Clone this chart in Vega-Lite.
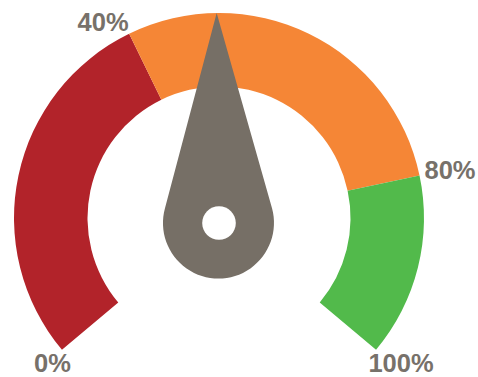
{
  "$schema": "https://vega.github.io/schema/vega-lite/v6.json",
  "width": 438,
  "height": 318,
  "autosize": {"type": "none"},
  "padding": {"left": 0, "top": 59, "right": 40, "bottom": 0},
  "background": "white",
  "config": {"view": {"stroke": null}},
  "datasets": {
    "bands": [
      {"band": "0-40", "start": 0, "end": 40},
      {"band": "40-80", "start": 40, "end": 80},
      {"band": "80-100", "start": 80, "end": 100}
    ],
    "ticks": [
      {"value": 0, "label": "0%"},
      {"value": 40, "label": "40%"},
      {"value": 80, "label": "80%"},
      {"value": 100, "label": "100%"}
    ],
    "needle": [{"value": 50}]
  },
  "layer": [
    {
      "data": {"name": "bands"},
      "mark": {"type": "arc", "radius": 205, "radius2": 131.5, "stroke": null},
      "encoding": {
        "theta": {"field": "start", "type": "quantitative", "scale": {"domain": [0, 100], "range": [-2.2689280275926285, 2.2689280275926285]}},
        "theta2": {"field": "end"},
        "color": {"field": "band", "type": "nominal", "scale": {"domain": ["0-40", "40-80", "80-100"], "range": ["#B2232A", "#F58636", "#52BA4B"]}, "legend": null}
      }
    },
    {
      "data": {"name": "needle"},
      "mark": {"type": "point", "filled": true, "opacity": 1, "color": "#766F66", "size": 176400, "shape": "M-0.011,-0.9762L0.2525,-0.0461A0.2643,0.2643 0 1 1 -0.2573,-0.0461Z"},
      "encoding": {
        "angle": {"field": "value", "type": "quantitative", "scale": {"domain": [0, 100], "range": [-130, 130]}}
      }
    },
    {
      "data": {"name": "needle"},
      "mark": {"type": "point", "filled": true, "opacity": 1, "color": "white", "size": 176400, "shape": "M0.08,0.0238A0.08,0.08 0 1 1 -0.08,0.0238A0.08,0.08 0 1 1 0.08,0.0238Z"},
      "encoding": {}
    },
    {
      "data": {"name": "ticks"},
      "transform": [{"filter": "datum.value == 0"}],
      "mark": {"type": "text", "radius": 205, "align": "center", "baseline": "middle", "dx": -9.5, "dy": 14, "font": "Liberation Sans", "fontWeight": "bold", "fontSize": 25.5, "color": "#77716A"},
      "encoding": {
        "theta": {"field": "value", "type": "quantitative", "scale": {"domain": [0, 100], "range": [-2.2689280275926285, 2.2689280275926285]}},
        "text": {"field": "label"}
      }
    },
    {
      "data": {"name": "ticks"},
      "transform": [{"filter": "datum.value == 40"}],
      "mark": {"type": "text", "radius": 205, "align": "center", "baseline": "middle", "dx": -26, "dy": -10.5, "font": "Liberation Sans", "fontWeight": "bold", "fontSize": 25.5, "color": "#77716A"},
      "encoding": {
        "theta": {"field": "value", "type": "quantitative"},
        "text": {"field": "label"}
      }
    },
    {
      "data": {"name": "ticks"},
      "transform": [{"filter": "datum.value == 80"}],
      "mark": {"type": "text", "radius": 205, "align": "center", "baseline": "middle", "dx": 30.5, "dy": -4, "font": "Liberation Sans", "fontWeight": "bold", "fontSize": 25.5, "color": "#77716A"},
      "encoding": {
        "theta": {"field": "value", "type": "quantitative"},
        "text": {"field": "label"}
      }
    },
    {
      "data": {"name": "ticks"},
      "transform": [{"filter": "datum.value == 100"}],
      "mark": {"type": "text", "radius": 205, "align": "center", "baseline": "middle", "dx": 25, "dy": 14, "font": "Liberation Sans", "fontWeight": "bold", "fontSize": 25.5, "color": "#77716A"},
      "encoding": {
        "theta": {"field": "value", "type": "quantitative"},
        "text": {"field": "label"}
      }
    }
  ]
}
